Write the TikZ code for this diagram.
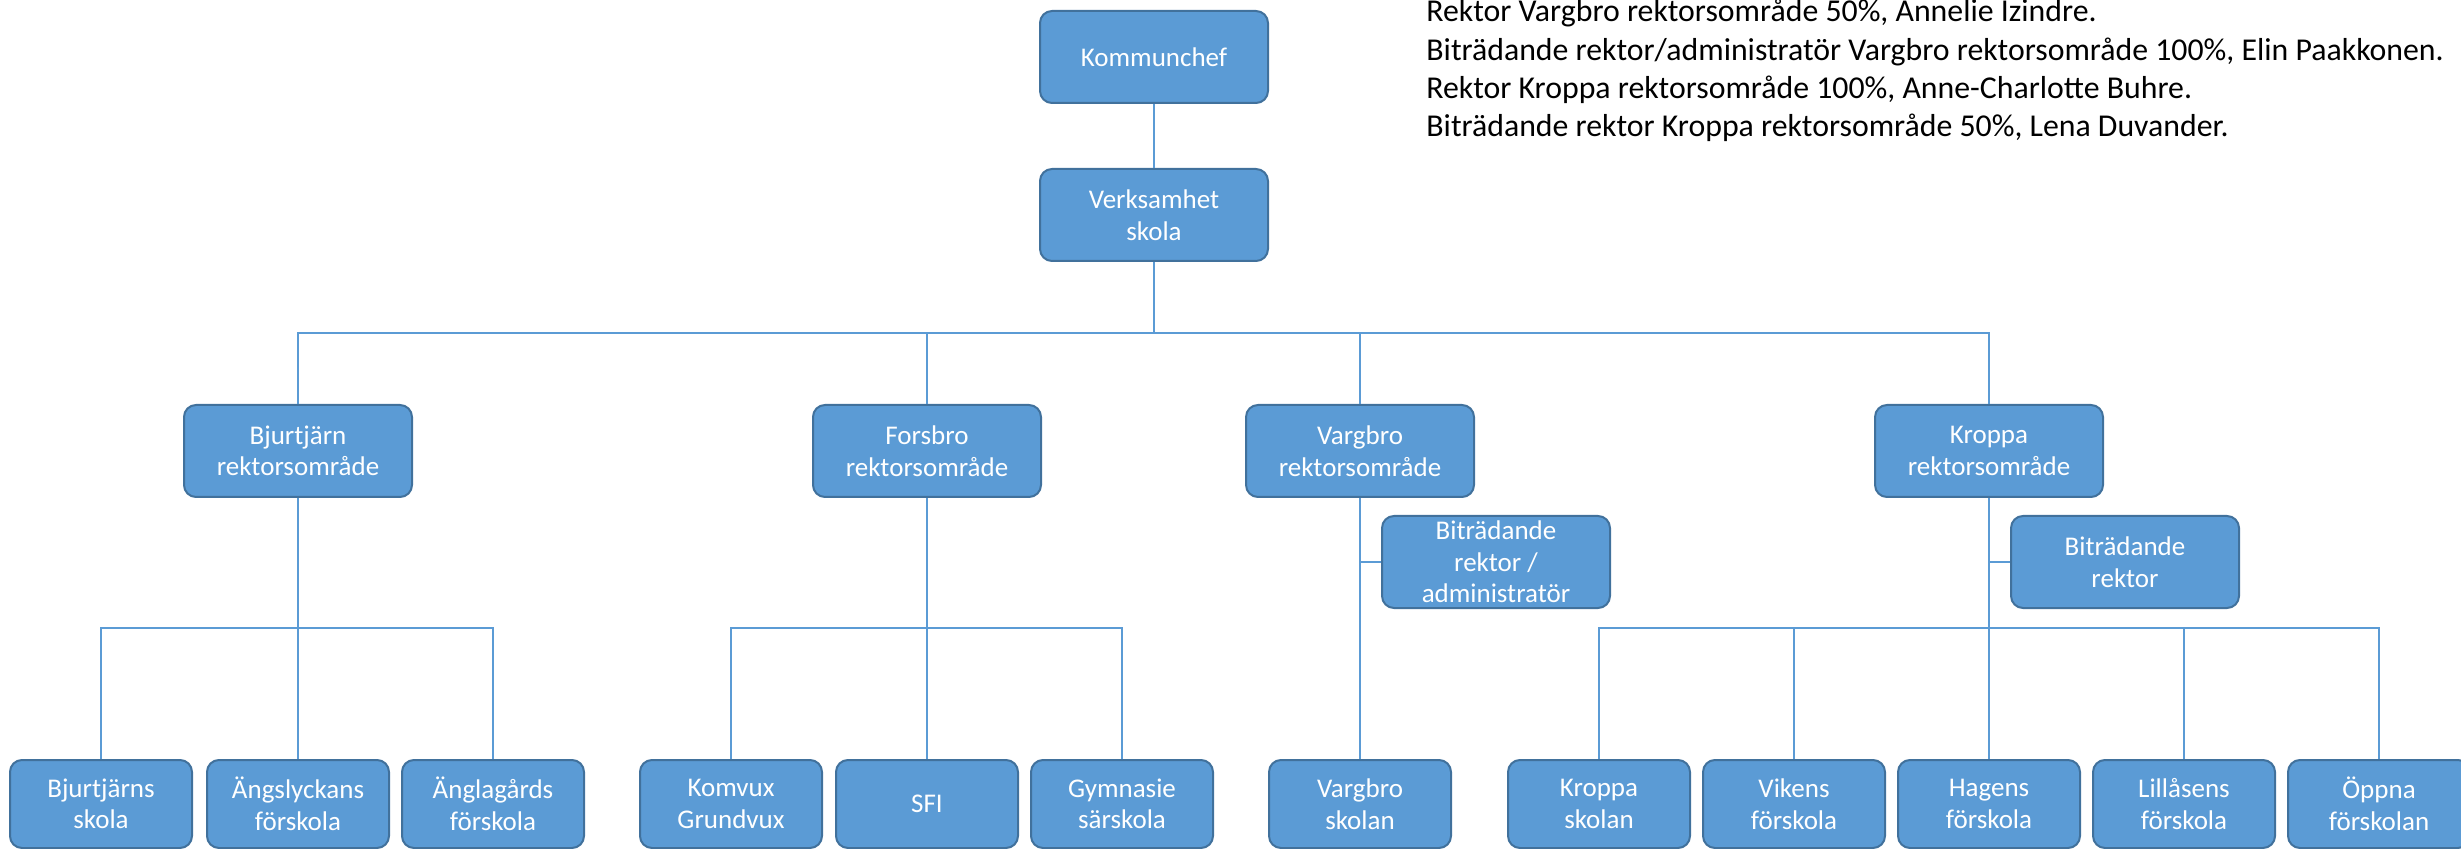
\documentclass[tikz,border=0pt]{standalone}
\usepackage{fontspec}
\setmainfont{Carlito}
\usetikzlibrary{positioning}
\definecolor{boxfill}{HTML}{5B9BD5}
\definecolor{boxline}{HTML}{41719C}

\begin{document}
\begin{tikzpicture}[
x=0.5pt, y=-0.5pt,
box/.style={rectangle, rounded corners=6pt, draw=boxline, line width=1pt, fill=boxfill, text=white, align=center, inner sep=0pt, minimum width=114pt, minimum height=46pt, font=\fontsize{13.5}{15.8}\selectfont},
small/.style={box, minimum width=91pt, minimum height=44pt},
conn/.style={draw=boxfill, line width=0.75pt},
]
\useasboundingbox (0,0) rectangle (2461,849);

\node[box] (a1) at (1154,57) {Kommunchef};
\node[box] (b1) at (1154,215) {Verksamhet\\skola};

\node[box] (c1) at (298,451) {Bjurtjärn\\rektorsområde};
\node[box] (c2) at (927,451) {Forsbro\\rektorsområde};
\node[box] (c3) at (1360,451) {Vargbro\\rektorsområde};
\node[box] (c4) at (1989,451) {Kroppa\\rektorsområde};

\node[box] (d1) at (1496,562) {Biträdande\\rektor /\\administratör};
\node[box] (d2) at (2125,562) {Biträdande\\rektor};

\node[small] (e1) at (101,804) {Bjurtjärns\\skola};
\node[small] (e2) at (298,804) {Ängslyckans\\förskola};
\node[small] (e3) at (493,804) {Änglagårds\\förskola};
\node[small] (e4) at (731,804) {Komvux\\Grundvux};
\node[small] (e5) at (927,804) {SFI};
\node[small] (e6) at (1122,804) {Gymnasie\\särskola};
\node[small] (e7) at (1360,804) {Vargbro\\skolan};
\node[small] (e8) at (1599,804) {Kroppa\\skolan};
\node[small] (e9) at (1794,804) {Vikens\\förskola};
\node[small] (e10) at (1989,804) {Hagens\\förskola};
\node[small] (e11) at (2184,804) {Lillåsens\\förskola};
\node[small] (e12) at (2379,804) {Öppna\\förskolan};

\node[anchor=base west, align=left, inner sep=0pt, font=\fontsize{15.9}{19.2}\selectfont] (info) at (1426,137)
{Rektor Vargbro rektorsområde 50\%, Annelie Izindre.\\
Biträdande rektor/administratör Vargbro rektorsområde 100\%, Elin Paakkonen.\\
Rektor Kroppa rektorsområde 100\%, Anne-Charlotte Buhre.\\
Biträdande rektor Kroppa rektorsområde 50\%, Lena Duvander.};

\coordinate (j0) at (1154,333);
\coordinate (j1) at (298,628);
\coordinate (j2) at (927,628);
\coordinate (j4) at (1989,628);

\draw[conn] (a1) -- (b1);
\draw[conn] (b1) -- (j0);
\draw[conn] (c1.north) |- (j0) -| (c4.north);
\draw[conn] (c2.north) -- (c2.north |- j0);
\draw[conn] (c3.north) -- (c3.north |- j0);

\draw[conn] (c1) -- (e2);
\draw[conn] (e1.north) |- (j1) -| (e3.north);
\draw[conn] (c2) -- (e5);
\draw[conn] (e4.north) |- (j2) -| (e6.north);
\draw[conn] (c3) -- (e7);
\draw[conn] (d1) -- (c3 |- d1);
\draw[conn] (c4) -- (e10);
\draw[conn] (d2) -- (c4 |- d2);
\draw[conn] (e8.north) |- (j4) -| (e12.north);
\draw[conn] (e9.north) -- (e9 |- j4);
\draw[conn] (e11.north) -- (e11 |- j4);
\end{tikzpicture}
\end{document}
